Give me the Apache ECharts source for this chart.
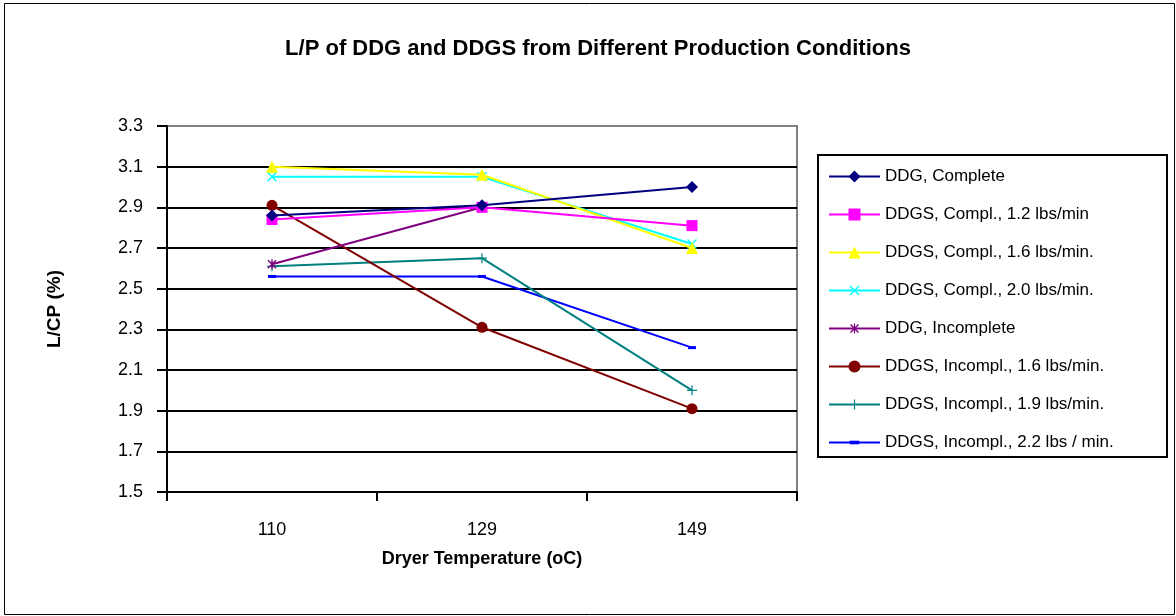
<!DOCTYPE html>
<html>
<head>
<meta charset="utf-8">
<title>L/P of DDG and DDGS</title>
<script src="https://cdn.jsdelivr.net/npm/echarts@6/dist/echarts.min.js"></script>
<style>
  html, body { margin: 0; padding: 0; background: #fff; }
  #chart { width: 1176px; height: 616px; }
</style>
</head>
<body>
<div id="chart"></div>
<script>
// data
var temps = ['110', '129', '149'];
var yTicks = [1.5, 1.7, 1.9, 2.1, 2.3, 2.5, 2.7, 2.9, 3.1, 3.3];

var ddgComplete      = [2.86, 2.91, 3.00];
var ddgsCompl12      = [2.84, 2.90, 2.81];
var ddgsCompl16      = [3.10, 3.06, 2.70];
var ddgsCompl20      = [3.05, 3.05, 2.72];
var ddgIncomplete    = [2.62, 2.90, null];
var ddgsIncompl16    = [2.91, 2.31, 1.91];
var ddgsIncompl19    = [2.61, 2.65, 2.00];
var ddgsIncompl22    = [2.56, 2.56, 2.21];

var names = [
  'DDG, Complete',
  'DDGS, Compl., 1.2 lbs/min',
  'DDGS, Compl., 1.6 lbs/min.',
  'DDGS, Compl., 2.0 lbs/min.',
  'DDG, Incomplete',
  'DDGS, Incompl., 1.6 lbs/min.',
  'DDGS, Incompl., 1.9 lbs/min.',
  'DDGS, Incompl., 2.2 lbs / min.'
];
var values = [ddgComplete, ddgsCompl12, ddgsCompl16, ddgsCompl20,
              ddgIncomplete, ddgsIncompl16, ddgsIncompl19, ddgsIncompl22];

var colors = ['#000080', '#ff00ff', '#ffff00', '#00ffff',
              '#800080', '#800000', '#008080', '#0000ff'];

// marker shapes (extra moveTo points keep the box square so nothing is stretched)
var xMark = 'path://M0,0M12,12M1,2L2,1L6,5L10,1L11,2L7,6L11,10L10,11L6,7L2,11L1,10L5,6Z';
var starMark = 'path://M0,0M12,12M1.5,2.5L2.5,1.5L6,5L9.5,1.5L10.5,2.5L7,6L10.5,9.5L9.5,10.5L6,7L2.5,10.5L1.5,9.5L5,6Z M5.4,1L6.6,1L6.6,11L5.4,11Z';
var plusMark = 'path://M0,0M12,12M5.4,1L6.6,1L6.6,5.4L11,5.4L11,6.6L6.6,6.6L6.6,11L5.4,11L5.4,6.6L1,6.6L1,5.4L5.4,5.4Z';
var dashMark = 'path://M0,0M10,10M1,3.5L9,3.5L9,6.5L1,6.5Z';
var symbols = ['diamond', 'rect', 'triangle', xMark, starMark, 'circle', plusMark, dashMark];
var sizes = [12, 11, 12, 12, 12, 11, 12, 10];

var font = 'Arial, "Liberation Sans", sans-serif';

var series = names.map(function (n, i) {
  return {
    name: n,
    type: 'line',
    data: values[i],
    symbol: symbols[i],
    symbolSize: sizes[i],
    showAllSymbol: true,
    connectNulls: false,
    lineStyle: { color: colors[i], width: 2 },
    itemStyle: { color: colors[i] },
    emphasis: { disabled: true },
    z: 10 - i
  };
});

var splitColors = yTicks.map(function (t, i) {
  return i === yTicks.length - 1 ? '#808080' : '#000';
});

var myChart = echarts.init(document.getElementById('chart'));
var option = {
  animation: false,
  backgroundColor: '#fff',
  title: {
    text: 'L/P of DDG and DDGS from Different Production Conditions',
    left: 593,
    textAlign: 'center',
    top: 33,
    textStyle: { fontFamily: font, fontSize: 22, fontWeight: 'bold', color: '#000' }
  },
  graphic: [
    { type: 'rect', shape: { x: 4.5, y: 3.5, width: 1170, height: 611 },
      style: { fill: null, stroke: '#000', lineWidth: 1 }, silent: true, z: -1 },
    { type: 'rect', shape: { x: 818, y: 155, width: 349, height: 302 },
      style: { fill: '#fff', stroke: '#000', lineWidth: 2 }, silent: true, z: -1 }
  ],
  legend: {
    orient: 'vertical',
    left: 828,
    top: 168,
    padding: 0,
    itemWidth: 51,
    itemHeight: 15,
    itemGap: 21,
    data: names,
    selectedMode: false,
    textStyle: { fontFamily: font, fontSize: 17, color: '#000' }
  },
  grid: {
    left: 167, right: 1176 - 797, top: 126, bottom: 616 - 492,
    show: true, borderColor: '#808080', borderWidth: 2, backgroundColor: '#fff'
  },
  xAxis: {
    type: 'category',
    data: temps,
    boundaryGap: true,
    name: 'Dryer Temperature (oC)',
    nameLocation: 'middle',
    nameGap: 58,
    nameTextStyle: { fontFamily: font, fontSize: 18, fontWeight: 'bold', color: '#000' },
    axisLine: { lineStyle: { color: '#000', width: 2 } },
    axisTick: { show: true, length: 9, lineStyle: { color: '#000', width: 2 } },
    axisLabel: { fontFamily: font, fontSize: 18, color: '#000', margin: 29 },
    splitLine: { show: false }
  },
  yAxis: {
    type: 'value',
    min: 1.5,
    max: 3.3,
    interval: 0.2,
    name: 'L/CP (%)',
    nameLocation: 'middle',
    nameGap: 103,
    nameTextStyle: { fontFamily: font, fontSize: 19, fontWeight: 'bold', color: '#000' },
    axisLine: { show: true, lineStyle: { color: '#000', width: 2 } },
    axisTick: { show: true, length: 10, lineStyle: { color: '#000', width: 2 } },
    axisLabel: {
      fontFamily: font, fontSize: 18, color: '#000', margin: 24,
      formatter: function (v) { return v.toFixed(1); }
    },
    splitLine: { show: true, lineStyle: { color: splitColors, width: 2 } }
  },
  series: series
};
myChart.setOption(option);
</script>
</body>
</html>
